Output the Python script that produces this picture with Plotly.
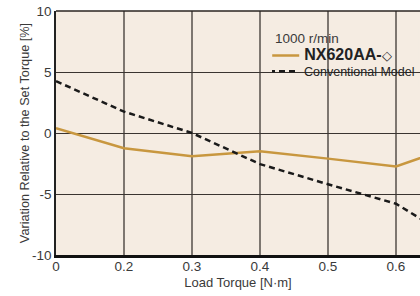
import plotly.graph_objects as go

load_torque = ["0", "0.2", "0.3", "0.4", "0.5", "0.6", "0.7"]
nx620aa = [0.4, -1.25, -1.9, -1.5, -2.1, -2.75, -0.8]
conventional = [4.25, 1.75, 0.0, -2.55, -4.2, -5.8, -9.2]
y_ticks = [-10, -5, 0, 5, 10]
speed_label = "1000 r/min"

FONT = "Liberation Sans, Arial, sans-serif"
BG = "#F5ECE2"
GOLD = "#C8973F"
TXT = "#3a3a3a"

fig = go.Figure()
fig.add_trace(go.Scatter(x=load_torque, y=nx620aa, mode="lines",
                         name="<span style='font-size:16px'><b>NX620AA-</b></span>◇",
                         line=dict(color=GOLD, width=2.5), legend="legend"))
fig.add_trace(go.Scatter(x=load_torque, y=conventional, mode="lines",
                         name="Conventional Model",
                         line=dict(color="#1a1a1a", width=2.5, dash="6px,4px"),
                         legend="legend2"))

# background patch behind the legend block (hides grid lines there)
fig.add_shape(type="rect", xref="paper", yref="paper",
              x0=0.555, x1=0.995, y0=0.6885, y1=0.9385,
              fillcolor=BG, line=dict(width=0), layer="between")
# top frame line
fig.add_shape(type="line", xref="paper", yref="paper",
              x0=0, x1=1, y0=1, y1=1, line=dict(color="#2a2420", width=1.3))

fig.add_annotation(text=speed_label, xref="paper", yref="paper",
                   x=0.596, y=0.887, xanchor="left", yanchor="middle",
                   showarrow=False, font=dict(family=FONT, size=13.5, color=TXT))

leg_common = dict(xanchor="left", yanchor="top", bgcolor="rgba(0,0,0,0)",
                  borderwidth=0, itemwidth=30, indentation=-8,
                  font=dict(family=FONT, size=12.5, color="#222222"))

fig.update_layout(
    width=420, height=296,
    margin=dict(l=56, r=0, t=11, b=41),
    paper_bgcolor="white", plot_bgcolor=BG,
    font=dict(family=FONT, size=13, color=TXT),
    showlegend=True, hovermode=False,
    legend=dict(x=0.594, y=0.878, **leg_common),
    legend2=dict(x=0.594, y=0.813, **leg_common),
    xaxis=dict(
        type="category", categoryorder="array", categoryarray=load_torque,
        range=[0, 5.353], automargin=False,
        title=dict(text="Load Torque [N·m]", font=dict(family=FONT, size=13), standoff=5),
        showgrid=True, gridcolor="#7d7670", gridwidth=1.5,
        showline=True, linecolor="#111111", linewidth=3,
        ticks="", ticklabelstandoff=-3,
        tickfont=dict(family=FONT, size=13.5, color=TXT),
        zeroline=False,
    ),
    yaxis=dict(
        range=[-10, 10], tickvals=y_ticks, ticktext=[str(v) for v in y_ticks],
        automargin=False, ticklabeloverflow="allow",
        title=dict(text="Variation Relative to the Set Torque [%]",
                   font=dict(family=FONT, size=12.7), standoff=0),
        showgrid=True, gridcolor="#3a3430", gridwidth=1.3,
        showline=True, linecolor="#222222", linewidth=1.5,
        ticks="", tickfont=dict(family=FONT, size=13.5, color=TXT),
        zeroline=False,
    ),
)

fig.write_html("out.html", config={"displayModeBar": False},
               post_script="document.body.style.margin='0px';")
